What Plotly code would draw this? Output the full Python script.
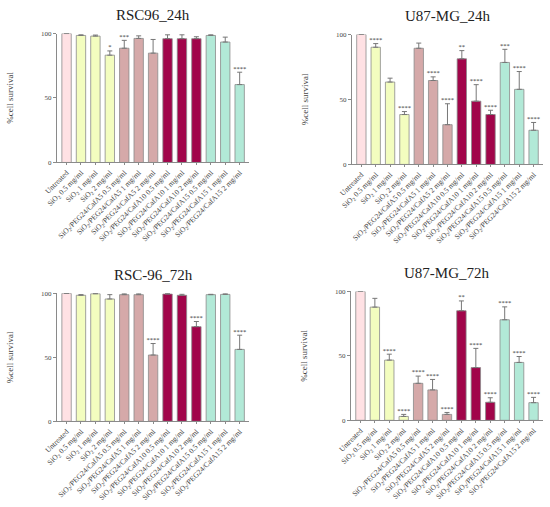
import plotly.graph_objects as go

# groups / labels
labels = ["Untreated",
          "SiO<sub>2</sub> 0.5 mg/ml", "SiO<sub>2</sub> 1 mg/ml", "SiO<sub>2</sub> 2 mg/ml",
          "SiO<sub>2</sub>/PEG24/CafA5 0.5 mg/ml", "SiO<sub>2</sub>/PEG24/CafA5 1 mg/ml",
          "SiO<sub>2</sub>/PEG24/CafA5 2 mg/ml",
          "SiO<sub>2</sub>/PEG24/CafA10 0.5 mg/ml", "SiO<sub>2</sub>/PEG24/CafA10 1 mg/ml",
          "SiO<sub>2</sub>/PEG24/CafA10 2 mg/ml",
          "SiO<sub>2</sub>/PEG24/CafA15 0.5 mg/ml", "SiO<sub>2</sub>/PEG24/CafA15 1 mg/ml",
          "SiO<sub>2</sub>/PEG24/CafA15 2 mg/ml"]
bar_colors = ["#FFE1E4"] + ["#F3FDBF"] * 3 + ["#D5A9A9"] * 3 + ["#A1054A"] * 3 + ["#B2E9D7"] * 3

# %cell survival, upper error, significance
rsc_24 = [100, 98.5, 98, 83.2, 88.6, 96.2, 84.8, 96, 96, 96, 98.5, 93.4, 60.4]
rsc_24_err = [0, 0.5, 0.8, 3.3, 6.1, 2.0, 10.6, 3, 3, 1.5, 0.5, 3.8, 9.6]
rsc_24_sig = ["", "", "", "*", "***", "", "", "", "", "", "", "", "****"]

u87_24 = [100, 90.2, 63.4, 38.4, 89.4, 64.6, 30.6, 81.3, 48.7, 38.4, 78.5, 57.8, 26.3]
u87_24_err = [0, 2.8, 3.0, 2.3, 4.0, 2.8, 16.1, 6.3, 12.7, 3.3, 10.1, 13.7, 6.0]
u87_24_sig = ["", "****", "", "****", "", "****", "****", "**", "****", "****", "***", "****", "****"]

rsc_72 = [100, 98.5, 99.7, 95.6, 99, 99, 51.8, 99.5, 98.5, 74, 99, 99.2, 56.2]
rsc_72_err = [0, 0.5, 0.3, 3.4, 0.7, 0.7, 9.0, 0.3, 0.8, 4.0, 0.3, 0.5, 11.1]
rsc_72_sig = ["", "", "", "", "", "", "****", "", "", "****", "", "", "****"]

u87_72 = [100, 87.8, 46.7, 3.0, 28.7, 23.6, 4.6, 85, 40.9, 14, 78, 44.9, 13.7]
u87_72_err = [0, 6.8, 4.6, 1.6, 5.6, 8.1, 1.5, 7.6, 14.9, 3.5, 10, 4.6, 4.1]
u87_72_sig = ["", "", "****", "****", "****", "****", "****", "**", "****", "****", "****", "****", "****"]

titles = ["RSC96_24h", "U87-MG_24h", "RSC-96_72h", "U87-MG_72h"]
panels = [(rsc_24, rsc_24_err, rsc_24_sig), (u87_24, u87_24_err, u87_24_sig),
          (rsc_72, rsc_72_err, rsc_72_sig), (u87_72, u87_72_err, u87_72_sig)]

# plot areas in pixels: x0, x1, y_zero, y_hundred
boxes = [(45, 242, 161, 30), (347, 543, 163, 31), (45, 242, 424, 294), (346, 543, 423, 292)]
W, H = 550, 507
FONT = "Liberation Serif"
GRAY = "#8a8a8a"

fig = go.Figure()
for i, ((vals, err, sig), box) in enumerate(zip(panels, boxes)):
    n = "" if i == 0 else str(i + 1)
    fig.add_trace(go.Bar(
        x=labels, y=vals, marker=dict(color=bar_colors, line=dict(color=GRAY, width=0.8)),
        error_y=dict(type="data", array=err, arrayminus=[0] * len(err), symmetric=False,
                     color="#777777", thickness=1, width=2.5),
        xaxis="x" + n, yaxis="y" + n, showlegend=False))
    fig.add_trace(go.Scatter(
        x=labels, y=[v + e for v, e in zip(vals, err)], text=sig, mode="text",
        textposition="top center", textfont=dict(family=FONT, size=6.5, color="#333333"),
        xaxis="x" + n, yaxis="y" + n, showlegend=False, cliponaxis=False))
    x0, x1, yz, yh = box
    fig.update_layout(**{
        "xaxis" + n: dict(domain=[x0 / W, x1 / W], anchor="y" + n, tickangle=-45,
                          showline=True, linecolor=GRAY, linewidth=1, ticks="outside",
                          ticklen=2, tickcolor=GRAY,
                          tickfont=dict(family=FONT, size=7.5, color="#444444")),
        "yaxis" + n: dict(domain=[1 - yz / H, 1 - yh / H], anchor="x" + n, range=[0, 100],
                          tickvals=[0, 50, 100], showline=True, linecolor=GRAY, linewidth=1,
                          ticks="outside", ticklen=3, tickcolor=GRAY, showgrid=False,
                          zeroline=False,
                          tickfont=dict(family=FONT, size=7, color="#444444"),
                          title=dict(text="%cell survival", standoff=25,
                                     font=dict(family=FONT, size=9, color="#444444"))),
    })
    fig.add_annotation(text=titles[i], x=(x0 + x1) / 2 / W, y=1 - (yh - 19) / H,
                       xref="paper", yref="paper", xanchor="center", yanchor="middle",
                       showarrow=False, font=dict(family=FONT, size=15, color="#222222"))

fig.update_layout(width=W, height=H, margin=dict(l=0, r=0, t=0, b=0),
                  plot_bgcolor="white", paper_bgcolor="white", bargap=0.35)
fig.write_html("out.html", config={"displayModeBar": False},
               post_script="document.body.style.margin='0';")
